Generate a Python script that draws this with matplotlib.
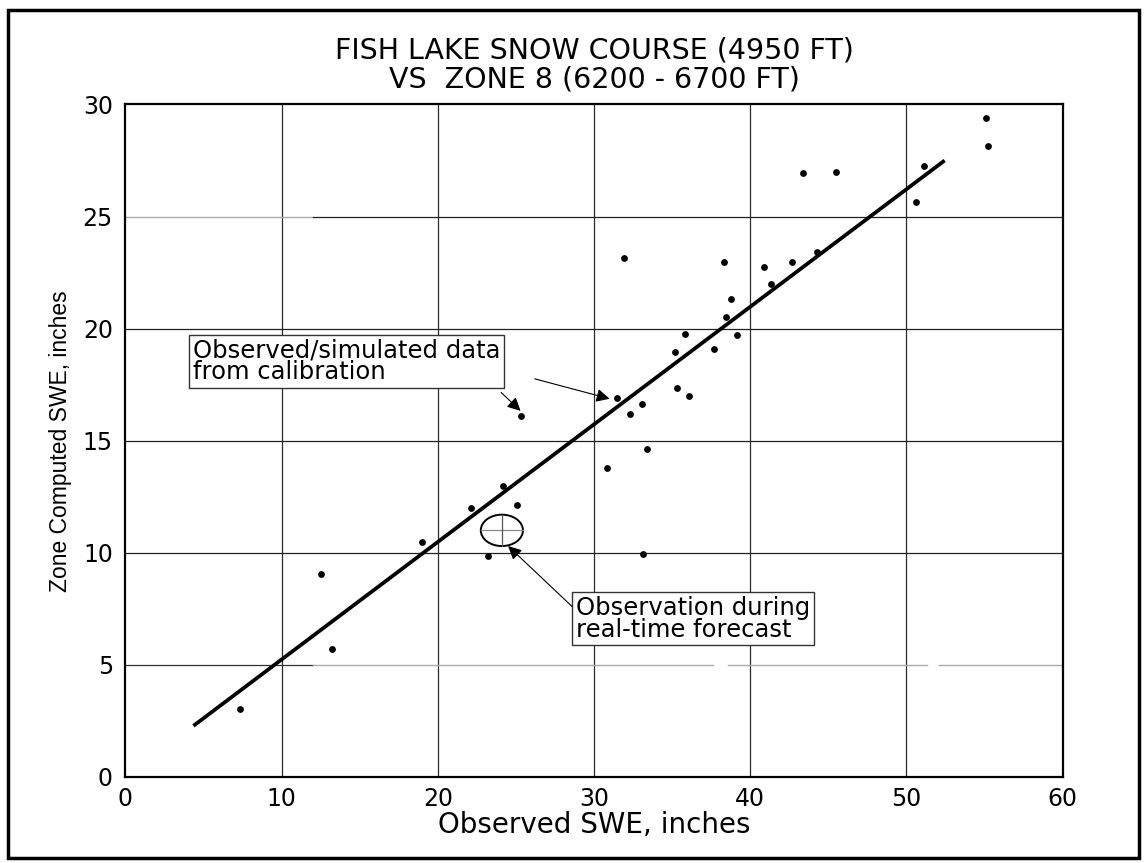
import matplotlib
matplotlib.use("Agg")
import matplotlib.pyplot as plt
from matplotlib.patches import Ellipse, Rectangle

# ---- data ----
obs_x = [7.35, 12.5, 13.2, 19.0, 22.1, 23.2, 24.15, 25.1, 25.3, 30.85, 31.45, 31.9,
         32.3, 33.05, 33.15, 33.4, 35.2, 35.3, 35.85, 36.1, 37.7, 38.35, 38.45, 38.75,
         39.15, 40.9, 41.3, 42.7, 43.4, 44.3, 45.5, 50.6, 51.15, 55.1, 55.2]
sim_y = [3.05, 9.05, 5.7, 10.5, 12.0, 9.85, 13.0, 12.15, 16.1, 13.8, 16.9, 23.15,
         16.2, 16.65, 9.95, 14.65, 18.95, 17.35, 19.75, 17.0, 19.1, 22.95, 20.5, 21.3,
         19.7, 22.75, 22.0, 22.95, 26.95, 23.4, 27.0, 25.65, 27.25, 29.4, 28.15]
fit_x = [4.35, 52.45]
fit_y = [2.28, 27.5]
rt_obs = (24.1, 11.0)          # observation during real-time forecast

x_ticks = [0, 10, 20, 30, 40, 50, 60]
y_ticks = [0, 5, 10, 15, 20, 25, 30]

title = "FISH LAKE SNOW COURSE (4950 FT)\nVS  ZONE 8 (6200 - 6700 FT)"
xlabel = "Observed SWE, inches"
ylabel = "Zone Computed SWE, inches"
note_cal = "Observed/simulated data\nfrom calibration"
note_rt = "Observation during\nreal-time forecast"

plt.rcParams['font.family'] = ['DejaVu Sans']

fig = plt.figure(figsize=(11.45, 8.63), dpi=100)
ax = fig.add_axes([0.1096, 0.0997, 0.8184, 0.7793])

# outer frame
fig.patches.append(Rectangle((0.007, 0.006), 0.988, 0.982, transform=fig.transFigure,
                             fill=False, lw=2.5, ec='black'))

ax.set_xlim(0, 60)
ax.set_ylim(0, 30)
ax.set_xticks(x_ticks)
ax.set_yticks(y_ticks)
ax.tick_params(length=0, labelsize=17)
ax.tick_params(axis='x', pad=7)
ax.tick_params(axis='y', pad=9)

# grid lines (scan shows some lighter segments)
for xv in x_ticks[1:-1]:
    ax.axvline(xv, color='#2a2a2a', lw=0.9, zorder=1)
ax.plot([0, 12], [25, 25], color='#aaaaaa', lw=1.0, zorder=1)
ax.plot([12, 60], [25, 25], color='#222222', lw=0.9, zorder=1)
for yv in (10, 15, 20):
    ax.axhline(yv, color='#222222', lw=0.9, zorder=1)
ax.plot([0, 12], [5, 5], color='#333333', lw=0.9, zorder=1)
for a, b in [(12, 37.6), (38.6, 51.3), (52.1, 60)]:
    ax.plot([a, b], [5, 5], color='#aaaaaa', lw=1.0, zorder=1)

for s in ax.spines.values():
    s.set_linewidth(1.6)
    s.set_color('black')

ax.scatter(obs_x, sim_y, s=24, color='black', zorder=4, linewidths=0)
ax.plot(fit_x, fit_y, color='black', lw=2.7, zorder=3, solid_capstyle='butt')

# real-time observation marker
ax.add_patch(Ellipse(rt_obs, 2.7, 1.4, fill=False, ec='black', lw=1.4, zorder=5))
ax.plot([rt_obs[0] - 1.35, rt_obs[0] + 1.35], [rt_obs[1], rt_obs[1]], color='#888888', lw=0.9, zorder=5)
ax.plot([rt_obs[0], rt_obs[0]], [rt_obs[1] - 0.7, rt_obs[1] + 0.7], color='#555555', lw=0.9, zorder=5)

box = dict(boxstyle='square,pad=0.15', fc='white', ec='#333333', lw=1.0)
ax.text(4.3, 18.55, note_cal, fontsize=17.5, ha='left', va='center', bbox=box,
        linespacing=0.88, zorder=6)
ax.text(28.85, 7.05, note_rt, fontsize=17.5, ha='left', va='center', bbox=box,
        linespacing=0.88, zorder=6)

arrow = dict(arrowstyle='-|>', color='black', lw=0.8, mutation_scale=20, shrinkA=0, shrinkB=0)
ax.annotate('', xy=(25.3, 16.33), xytext=(24.05, 17.15), arrowprops=arrow, zorder=7)
ax.annotate('', xy=(31.0, 16.87), xytext=(26.2, 17.76), arrowprops=arrow, zorder=7)
ax.annotate('', xy=(24.5, 10.3), xytext=(28.6, 7.6), arrowprops=arrow, zorder=7)

ax.set_title(title, fontsize=20.5, linespacing=1.05, pad=12)
ax.set_xlabel(xlabel, fontsize=20, labelpad=0)
ax.set_ylabel(ylabel, fontsize=16.5, labelpad=8, family=['Liberation Sans', 'DejaVu Sans'])

fig.savefig('out.png', dpi=100)
